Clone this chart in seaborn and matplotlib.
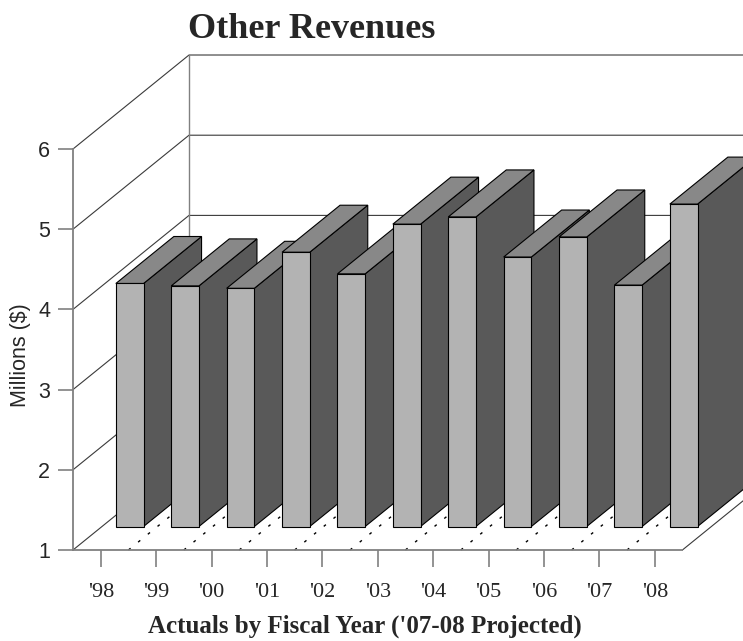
import matplotlib
matplotlib.use("Agg")
import matplotlib.pyplot as plt
from matplotlib.patches import Polygon
import pandas as pd
import seaborn as sns

# Other revenues by fiscal year, millions of dollars ('07 and '08 projected)
years = ["'98", "'99", "'00", "'01", "'02", "'03", "'04", "'05", "'06", "'07", "'08"]
revenues = [4.03, 4.00, 3.97, 4.42, 4.15, 4.77, 4.86, 4.36, 4.61, 4.01, 5.02]
y_ticks = [1, 2, 3, 4, 5, 6]

FRONT, SIDE, TOP = "#b3b3b3", "#595959", "#888888"
WALL = "#3a3a3a"
AXIS_GREY = "#808080"
SERIF = "Liberation Serif"
SANS = "Liberation Sans"

# oblique depth of the chart box, in data units (x: categories, y: millions)
DX, DY = 2.094, 1.172
F0, F1 = 0.25, 0.75  # front and back of each bar as fractions of the depth

sns.set_style("white")
W, H = 743, 641
fig = plt.figure(figsize=(W / 100, H / 100), dpi=100)
ax = fig.add_axes([73 / W, 91 / H, 609.4 / W, 401 / H])

df = pd.DataFrame({"year": years, "revenue": revenues})
sns.barplot(data=df, x="year", y="revenue", width=0.5, color=FRONT,
            saturation=1, edgecolor="black", linewidth=0.8, ax=ax)

n = len(years)
x_lo, x_hi = -0.5, n - 0.5
y_lo, y_hi = y_ticks[0], y_ticks[-1]
ax.set_xlim(x_lo, x_hi)
ax.set_ylim(y_lo, y_hi)

# walls: left-wall gridlines running back, then along the back wall
for v in y_ticks:
    ax.plot([x_lo, x_lo + DX, x_hi + DX], [v, v + DY, v + DY], color=WALL,
            lw=0.8, zorder=0.5, clip_on=False)
ax.plot([x_lo + DX, x_lo + DX], [y_lo + DY, y_hi + DY], color=AXIS_GREY,
        lw=1.0, zorder=0.5, clip_on=False)
ax.plot([x_hi, x_hi + DX], [y_lo, y_lo + DY], color=WALL, lw=0.8,
        zorder=0.5, clip_on=False)
# dotted floor lines between categories
for k in range(1, n):
    ax.plot([k - 0.5, k - 0.5 + DX], [y_lo, y_lo + DY], color="black",
            lw=1.0, ls=(0, (2, 7)), zorder=0.6, clip_on=False)

# turn each flat bar into a box: front face, right side and top
for i, bar in enumerate(list(ax.patches)):
    x0, w, v = bar.get_x(), bar.get_width(), bar.get_height()
    fx, fy = F0 * DX, F0 * DY
    bx, by = F1 * DX, F1 * DY
    z = 3 + 2 * i
    bar.set_x(x0 + fx)
    bar.set_y(y_lo + fy)
    bar.set_height(v - y_lo)
    bar.set_zorder(z + 1)
    bar.set_clip_on(False)
    side = Polygon([(x0 + w + fx, y_lo + fy), (x0 + w + bx, y_lo + by),
                    (x0 + w + bx, v + by), (x0 + w + fx, v + fy)],
                   closed=True, facecolor=SIDE, edgecolor="black", lw=0.8,
                   zorder=z, clip_on=False)
    top = Polygon([(x0 + fx, v + fy), (x0 + w + fx, v + fy),
                   (x0 + w + bx, v + by), (x0 + bx, v + by)],
                  closed=True, facecolor=TOP, edgecolor="black", lw=0.8,
                  zorder=z, clip_on=False)
    ax.add_patch(side)
    ax.add_patch(top)

# axes, ticks and labels
sns.despine(ax=ax, top=True, right=True)
for s in ("left", "bottom"):
    ax.spines[s].set_color(AXIS_GREY)
    ax.spines[s].set_linewidth(1.3)
ax.set_yticks(y_ticks)
ax.set_yticklabels([str(t) for t in y_ticks], fontfamily=SANS, fontsize=15.5)
ax.set_xticks(range(n))
ax.set_xticklabels(years, fontfamily=SERIF, fontsize=16)
ax.tick_params(axis="y", left=True, direction="out", length=11, width=1.2,
               color=AXIS_GREY, pad=5.5)
ax.tick_params(axis="x", bottom=True, direction="out", length=12, width=1.2,
               color=AXIS_GREY, pad=12)

ax.set_ylabel("Millions ($)", fontfamily=SANS, fontsize=15.5)
ax.yaxis.set_label_coords((21 - 73) / 609.4, (550 - 355) / 401)
ax.yaxis.label.set_va("center")
ax.set_xlabel("Actuals by Fiscal Year ('07-08 Projected)", fontfamily=SERIF,
              fontsize=18, fontweight="bold")
ax.xaxis.set_label_coords((364.5 - 73) / 609.4, (550 - 626) / 401)
ax.xaxis.label.set_va("center")

fig.text(311.5 / W, 1 - 29 / H, "Other Revenues", ha="center", va="center",
         fontfamily=SERIF, fontsize=26, fontweight="bold")

fig.savefig("out.png", dpi=100)
